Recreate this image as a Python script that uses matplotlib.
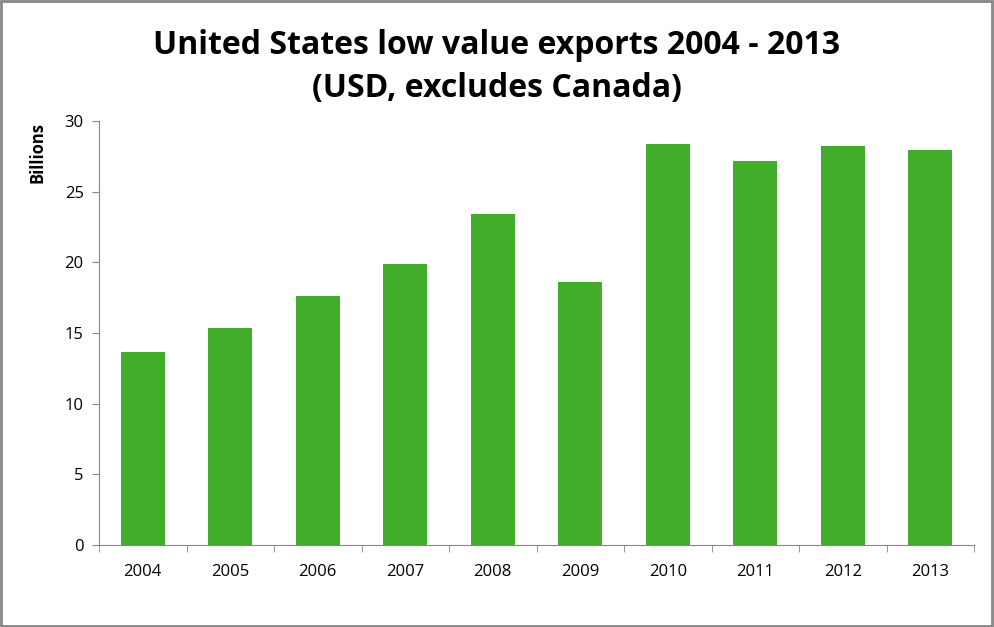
import matplotlib
matplotlib.use("Agg")
import matplotlib.pyplot as plt
from matplotlib.patches import Rectangle

# valeurs (milliards USD)
annees = ['2004', '2005', '2006', '2007', '2008', '2009', '2010', '2011', '2012', '2013']
exports = [13.66, 15.36, 17.62, 19.89, 23.42, 18.61, 28.38, 27.18, 28.24, 27.95]
graduations_y = [0, 5, 10, 15, 20, 25, 30]

plt.rcParams['font.family'] = ['Open Sans', 'DejaVu Sans']

fig = plt.figure(figsize=(9.94, 6.27), dpi=100)
ax = fig.add_axes([99 / 994, 1 - 545 / 627, 875 / 994, 424 / 627])

x = list(range(len(annees)))
ax.bar(x, exports, width=0.5, color='#41AD2B')

ax.set_xlim(-0.5, len(annees) - 0.5)
ax.set_ylim(0, 30)
ax.set_yticks(graduations_y)
ax.set_xticks(x)
ax.set_xticklabels(annees)
# petits traits entre les categories, comme Excel
ax.set_xticks([i - 0.5 for i in range(len(annees) + 1)], minor=True)
ax.tick_params(axis='x', which='major', length=0, pad=14, labelsize=12)
ax.tick_params(axis='x', which='minor', length=5, color='#868686')
ax.tick_params(axis='y', length=5, color='#868686', labelsize=12, pad=6)

for cote in ['top', 'right']:
    ax.spines[cote].set_visible(False)
for cote in ['left', 'bottom']:
    ax.spines[cote].set_color('#868686')

ax.set_ylabel('Billions', fontsize=12, fontweight='bold')
ax.yaxis.set_label_coords(-0.06, 0.925)

fig.text(0.5, 1 - 45 / 627, 'United States low value exports 2004 - 2013',
         ha='center', va='center', fontsize=23, fontweight='bold')
fig.text(0.5, 1 - 88 / 627, '(USD, excludes Canada)',
         ha='center', va='center', fontsize=23, fontweight='bold')

# cadre gris autour de la figure
fig.patches.append(Rectangle((0.001, 0.002), 0.997, 0.996, transform=fig.transFigure,
                             fill=False, edgecolor='#868686', linewidth=2))

fig.savefig('out.png', dpi=100)
